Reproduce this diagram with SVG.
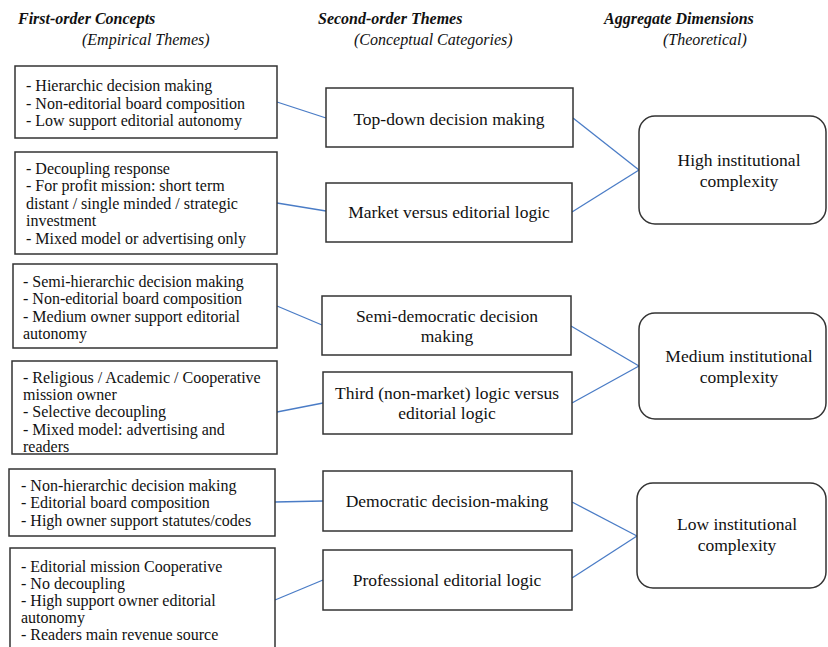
<svg xmlns="http://www.w3.org/2000/svg" width="828" height="647" viewBox="0 0 828 647">
<style>
.bg{fill:#fff}
.box{fill:#fff;stroke:#333;stroke-width:1.5}
.t{font-family:"Liberation Serif","Times New Roman",serif;font-size:16px;fill:#111}
.m{font-family:"Liberation Serif","Times New Roman",serif;font-size:17.5px;fill:#111;text-anchor:middle}
.h{font-family:"Liberation Serif","Times New Roman",serif;font-size:16px;font-style:italic;fill:#111}
.hb{font-weight:bold}
.c line{stroke:#4a7cc6;stroke-width:1.3}
</style>
<rect class="bg" x="0" y="0" width="828" height="647"/>
<g id="headers">
<text class="h hb" x="18" y="24">First-order Concepts</text>
<text class="h" x="82" y="45">(Empirical Themes)</text>
<text class="h hb" x="318" y="24">Second-order Themes</text>
<text class="h" x="354" y="45">(Conceptual Categories)</text>
<text class="h hb" x="604" y="24">Aggregate Dimensions</text>
<text class="h" x="663" y="45">(Theoretical)</text>
</g>
<g class="c" id="connectors">
<line x1="277" y1="102" x2="326" y2="118"/>
<line x1="277" y1="203" x2="326" y2="211"/>
<line x1="573" y1="118" x2="639" y2="170"/>
<line x1="572" y1="212" x2="639" y2="170"/>
<line x1="277" y1="306" x2="322" y2="325"/>
<line x1="277" y1="412" x2="323" y2="403"/>
<line x1="571" y1="326" x2="639" y2="366"/>
<line x1="572" y1="403" x2="639" y2="366"/>
<line x1="275" y1="502" x2="323" y2="501"/>
<line x1="275" y1="600" x2="323" y2="580"/>
<line x1="572" y1="502" x2="637" y2="536"/>
<line x1="572" y1="578" x2="637" y2="536"/>
</g>
<g id="c1">
<rect class="box" x="15" y="66" width="262" height="72"/>
<text class="t" x="26" y="91">- Hierarchic  decision making</text>
<text class="t" x="26" y="109">- Non-editorial board composition</text>
<text class="t" x="26" y="126">- Low support editorial autonomy</text>
</g>
<g id="c2">
<rect class="box" x="15" y="152" width="262" height="102"/>
<text class="t" x="26" y="174">- Decoupling response</text>
<text class="t" x="26" y="191">- For profit mission: short term</text>
<text class="t" x="26" y="209">distant / single minded / strategic</text>
<text class="t" x="26" y="226">investment</text>
<text class="t" x="26" y="244">- Mixed model or advertising only</text>
</g>
<g id="c3">
<rect class="box" x="13" y="264" width="264" height="84"/>
<text class="t" x="23" y="287">- Semi-hierarchic  decision making</text>
<text class="t" x="23" y="304">- Non-editorial board composition</text>
<text class="t" x="23" y="322">- Medium owner support editorial</text>
<text class="t" x="23" y="339">autonomy</text>
</g>
<g id="c4">
<rect class="box" x="12" y="361" width="265" height="93"/>
<text class="t" x="23" y="383">- Religious / Academic  / Cooperative</text>
<text class="t" x="23" y="400">mission owner</text>
<text class="t" x="23" y="417">- Selective decoupling</text>
<text class="t" x="23" y="435">- Mixed model: advertising and</text>
<text class="t" x="23" y="452">readers</text>
</g>
<g id="c5">
<rect class="box" x="9" y="469" width="266" height="67"/>
<text class="t" x="21" y="491">- Non-hierarchic  decision making</text>
<text class="t" x="21" y="508">- Editorial board  composition</text>
<text class="t" x="21" y="526">- High owner  support statutes/codes</text>
</g>
<g id="c6">
<rect class="box" x="10" y="548" width="265" height="110"/>
<text class="t" x="21" y="572">- Editorial mission Cooperative</text>
<text class="t" x="21" y="589">- No decoupling</text>
<text class="t" x="21" y="606">- High support owner editorial</text>
<text class="t" x="21" y="623">autonomy</text>
<text class="t" x="21" y="640">- Readers  main revenue  source</text>
</g>
<g id="t1">
<rect class="box" x="326" y="88" width="247" height="59"/>
<text class="m" x="449" y="125">Top-down decision making</text>
</g>
<g id="t2">
<rect class="box" x="326" y="183" width="246" height="59"/>
<text class="m" x="449" y="218">Market versus editorial logic</text>
</g>
<g id="t3">
<rect class="box" x="322" y="296" width="249" height="59"/>
<text class="m" x="447" y="322">Semi-democratic decision</text>
<text class="m" x="447" y="342">making</text>
</g>
<g id="t4">
<rect class="box" x="323" y="372" width="249" height="62"/>
<text class="m" x="447" y="399">Third (non-market) logic versus</text>
<text class="m" x="447" y="419">editorial logic</text>
</g>
<g id="t5">
<rect class="box" x="323" y="471" width="249" height="60"/>
<text class="m" x="447" y="507">Democratic decision-making</text>
</g>
<g id="t6">
<rect class="box" x="323" y="550" width="249" height="60"/>
<text class="m" x="447" y="586">Professional editorial logic</text>
</g>
<g id="d1">
<rect class="box" x="639" y="116" width="187" height="108" rx="16"/>
<text class="m" x="739" y="166">High institutional</text>
<text class="m" x="739" y="187">complexity</text>
</g>
<g id="d2">
<rect class="box" x="639" y="313" width="187" height="106" rx="16"/>
<text class="m" x="739" y="362">Medium institutional</text>
<text class="m" x="739" y="383">complexity</text>
</g>
<g id="d3">
<rect class="box" x="637" y="483" width="189" height="105" rx="16"/>
<text class="m" x="737" y="530">Low institutional</text>
<text class="m" x="737" y="551">complexity</text>
</g>
</svg>
